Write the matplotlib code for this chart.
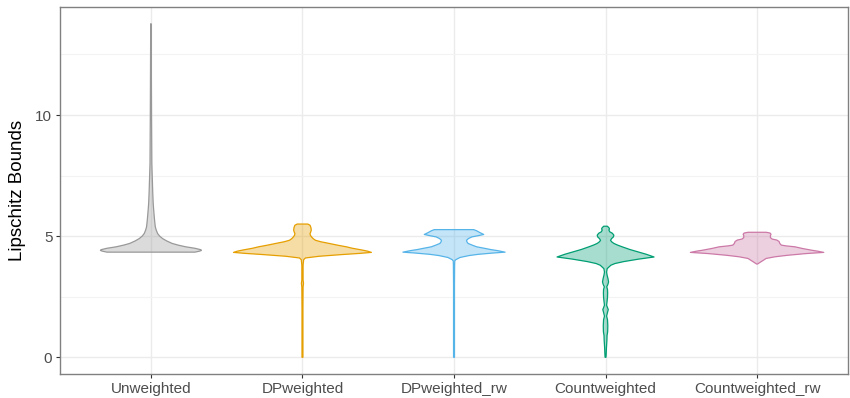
import matplotlib
matplotlib.use("Agg")
import matplotlib.pyplot as plt
from matplotlib.ticker import MultipleLocator

plt.rcParams["font.family"] = ["Liberation Sans", "DejaVu Sans"]

groups = ["Unweighted", "DPweighted", "DPweighted_rw", "Countweighted", "Countweighted_rw"]
colors = ["#999999", "#E69F00", "#56B4E9", "#009E73", "#CC79A7"]

# violin outlines: value levels and half-widths (in category units)
unweighted_y = [4.34, 4.38, 4.41, 4.44, 4.50, 4.56, 4.63, 4.70, 4.80, 4.90, 5.00, 5.11,
                5.25, 5.38, 5.60, 5.80, 6.10, 6.35, 6.80, 7.20, 7.60, 8.00, 9.00, 10.0,
                11.5, 13.0, 13.77]
unweighted_w = [0.29, 0.32, 0.333, 0.33, 0.29, 0.23, 0.18, 0.14, 0.105, 0.077, 0.058, 0.044,
                0.035, 0.029, 0.025, 0.022, 0.018, 0.015, 0.012, 0.010, 0.008, 0.006, 0.005,
                0.004, 0.003, 0.002, 0.001]

dpw_y = [0.0, 1.0, 2.0, 2.9, 3.05, 3.2, 3.8, 4.03, 4.10, 4.17, 4.24, 4.29, 4.33, 4.38,
         4.42, 4.50, 4.56, 4.63, 4.70, 4.77, 4.83, 4.90, 4.97, 5.04, 5.11, 5.18, 5.25,
         5.35, 5.45, 5.50]
dpw_w = [0.003, 0.003, 0.003, 0.004, 0.007, 0.004, 0.004, 0.008, 0.02, 0.11, 0.26, 0.38,
         0.455, 0.43, 0.40, 0.33, 0.29, 0.23, 0.176, 0.12, 0.086, 0.07, 0.06, 0.052, 0.05,
         0.055, 0.058, 0.056, 0.05, 0.035]

dprw_y = [0.0, 1.0, 2.0, 3.0, 3.8, 3.98, 4.03, 4.12, 4.20, 4.25, 4.30, 4.34, 4.40, 4.45,
          4.50, 4.56, 4.63, 4.70, 4.77, 4.83, 4.90, 4.97, 5.02, 5.07, 5.15, 5.22, 5.27]
dprw_w = [0.003, 0.003, 0.003, 0.003, 0.004, 0.005, 0.012, 0.04, 0.10, 0.16, 0.25, 0.337,
          0.29, 0.24, 0.20, 0.15, 0.12, 0.093, 0.085, 0.083, 0.095, 0.118, 0.16, 0.196,
          0.17, 0.15, 0.13]

cw_y = [0.0, 0.10, 0.40, 0.70, 0.90, 1.05, 1.30, 1.55, 1.70, 1.85, 1.97, 2.05, 2.15, 2.30,
        2.47, 2.65, 2.80, 2.91, 3.00, 3.11, 3.25, 3.40, 3.52, 3.66, 3.80, 3.87, 3.95, 4.05,
        4.14, 4.25, 4.35, 4.45, 4.56, 4.63, 4.70, 4.77, 4.83, 4.90, 4.97, 5.04, 5.12, 5.18,
        5.25, 5.30, 5.35, 5.41]
cw_w = [0.003, 0.004, 0.006, 0.009, 0.010, 0.014, 0.015, 0.013, 0.007, 0.013, 0.018, 0.013,
        0.007, 0.010, 0.013, 0.014, 0.013, 0.008, 0.015, 0.020, 0.016, 0.010, 0.007, 0.011,
        0.035, 0.062, 0.12, 0.216, 0.32, 0.27, 0.215, 0.16, 0.11, 0.08, 0.055, 0.04, 0.033,
        0.04, 0.052, 0.055, 0.045, 0.028, 0.022, 0.026, 0.022, 0.012]

cwrw_y = [3.85, 3.92, 4.00, 4.08, 4.15, 4.21, 4.28, 4.33, 4.38, 4.42, 4.49, 4.56, 4.60,
          4.63, 4.70, 4.78, 4.84, 4.88, 4.94, 5.02, 5.08, 5.13, 5.16]
cwrw_w = [0.003, 0.02, 0.04, 0.06, 0.12, 0.20, 0.32, 0.44, 0.40, 0.36, 0.30, 0.25, 0.19,
          0.16, 0.15, 0.145, 0.13, 0.10, 0.088, 0.088, 0.092, 0.085, 0.06]

profiles = [(unweighted_y, unweighted_w), (dpw_y, dpw_w), (dprw_y, dprw_w),
            (cw_y, cw_w), (cwrw_y, cwrw_w)]

fig = plt.figure(figsize=(8.5, 3.98), dpi=100)
ax = fig.add_axes([60 / 850, 24 / 398, 788 / 850, 367 / 398])

for i, ((ys, ws), col) in enumerate(zip(profiles, colors)):
    pos = i + 1
    left = [pos - w for w in ws]
    right = [pos + w for w in ws]
    ax.fill_betweenx(ys, left, right, facecolor=col, alpha=0.35, linewidth=0, zorder=2)
    ax.fill_betweenx(ys, left, right, facecolor="none", edgecolor=col, linewidth=0.9,
                     zorder=3)

ax.set_xlim(0.4, 5.6)
ax.set_ylim(-0.69, 14.46)
ax.set_xticks(range(1, 6))
ax.set_xticklabels(groups)
ax.yaxis.set_major_locator(MultipleLocator(5))
ax.yaxis.set_minor_locator(MultipleLocator(2.5))
ax.set_ylabel("Lipschitz Bounds", fontsize=13.5, color="black", labelpad=7)

ax.grid(True, which="major", color="#EBEBEB", linewidth=1.0, zorder=0)
ax.grid(True, which="minor", axis="y", color="#F3F3F3", linewidth=0.8, zorder=0)
ax.set_axisbelow(True)

ax.tick_params(axis="both", which="major", length=3, width=0.8, color="#333333",
               labelsize=11, labelcolor="#4D4D4D", pad=2.5)
ax.tick_params(axis="y", which="minor", length=0)
for sp in ax.spines.values():
    sp.set_color("#808080")
    sp.set_linewidth(1.0)

fig.savefig("out.png", dpi=100)
